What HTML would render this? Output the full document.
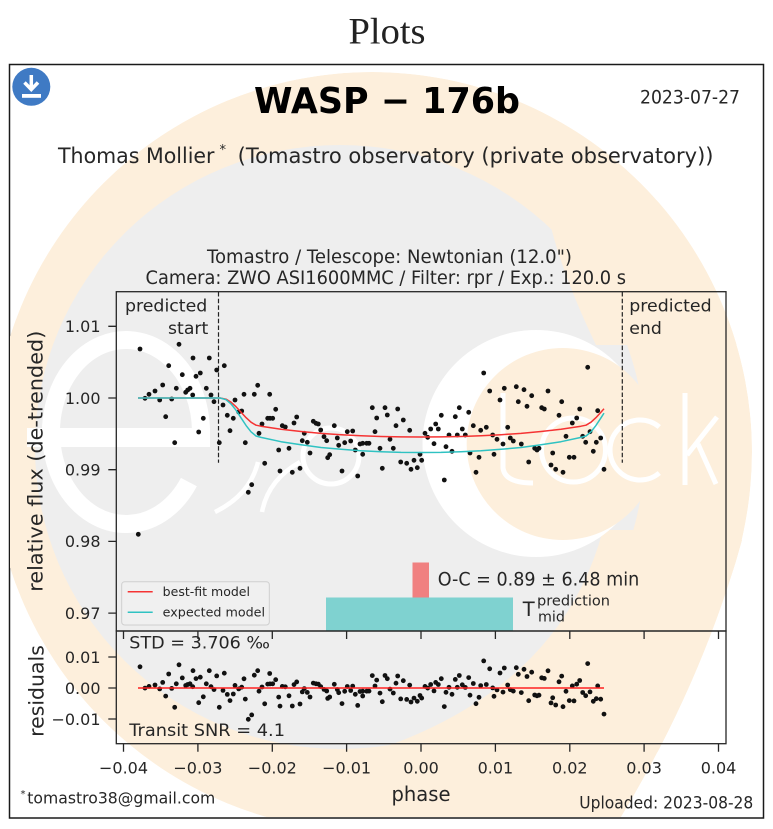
<!DOCTYPE html>
<html><head><meta charset="utf-8"><style>
html,body{margin:0;padding:0;background:#fff;}
svg{display:block;}
.m{font-family:"DejaVu Sans","Liberation Sans",sans-serif;fill:#262626;}
</style></head><body>
<svg width="773" height="829" viewBox="0 0 773 829" xmlns="http://www.w3.org/2000/svg">
<defs>
<clipPath id="box"><rect x="10" y="65" width="752.5" height="752"/></clipPath>
<clipPath id="ell"><circle cx="372" cy="452" r="380"/><path d="M742,540 Q700,690 613,830 L372,830 L372,540 Z"/></clipPath>
<clipPath id="ax1"><rect x="116.3" y="291.7" width="609.7" height="339.3"/></clipPath>
<clipPath id="ax2"><rect x="116.3" y="631" width="609.7" height="112.7"/></clipPath>
</defs>

<text x="387" y="43.5" text-anchor="middle" font-family="Liberation Serif, serif" font-size="37" fill="#222" textLength="77" lengthAdjust="spacingAndGlyphs">Plots</text>

<rect x="9.5" y="64.5" width="754" height="753.5" fill="#fff" stroke="#1a1a1a" stroke-width="1.5"/>

<!-- watermark -->
<g clip-path="url(#box)"><g clip-path="url(#ell)">
<circle cx="372" cy="452" r="380" fill="#fdefdc"/>
<path d="M742,540 Q700,690 613,830 L372,830 L372,540 Z" fill="#fdefdc"/>
<ellipse cx="340" cy="447" rx="305" ry="302" fill="#eeeeee"/>
<path d="M545,200 Q556,262 596,345 L770,345 L770,200 Z" fill="#fdefdc"/>
<path d="M603,530 Q560,690 370,752 L770,752 L770,530 Z" fill="#fdefdc"/>
<circle cx="536" cy="443.5" r="113.5" fill="#ffffff"/>
<circle cx="562.7" cy="444" r="96" fill="#fdefdc"/>
<g fill="none" stroke="#ffffff">
<path d="M188.9,482.1 A75,92 0 1 1 201,432" stroke-width="18"/>
<path d="M215,512 Q250,495 258,462" stroke-width="4.5"/>
<path d="M300,462 Q268,480 262,512" stroke-width="4.5"/>
<circle cx="331" cy="456" r="28" stroke-width="5"/>
<path d="M503,393 L503,468 Q505,483 533,483" stroke-width="5"/>
<circle cx="573.5" cy="450" r="32" stroke-width="5"/>
<path d="M659.3,427 A30,30 0 1 0 659.3,473" stroke-width="5"/>
<path d="M685,393 L685,485 M717,417 L687,455 M698,444 L716,484" stroke-width="5"/>
</g>
<rect x="27" y="428" width="183" height="19" fill="#ffffff"/>
</g></g>

<!-- download icon -->
<circle cx="31.3" cy="86.8" r="19" fill="#3f7ac4"/>
<line x1="31.3" y1="75" x2="31.3" y2="89" stroke="#fff" stroke-width="3.5"/>
<polyline points="24.5,82.5 31.3,89.5 38,82.5" fill="none" stroke="#fff" stroke-width="3.5"/>
<rect x="22" y="94" width="19" height="3.8" fill="#fff"/>

<!-- header -->
<text class="m" x="387" y="113" text-anchor="middle" font-size="36" font-weight="bold" textLength="266" lengthAdjust="spacingAndGlyphs" style="fill:#000">WASP − 176b</text>
<text class="m" x="640" y="103.3" font-size="19" textLength="100" lengthAdjust="spacingAndGlyphs">2023-07-27</text>
<text class="m" x="58" y="163" font-size="21" textLength="156.5" lengthAdjust="spacingAndGlyphs">Thomas Mollier</text>
<text class="m" x="219.5" y="154" font-size="13">*</text>
<text class="m" x="237.7" y="163" font-size="21" textLength="475.8" lengthAdjust="spacingAndGlyphs">(Tomastro observatory (private observatory))</text>
<text class="m" x="389.5" y="262.8" text-anchor="middle" font-size="19" textLength="365" lengthAdjust="spacingAndGlyphs">Tomastro / Telescope: Newtonian (12.0")</text>
<text class="m" x="385.8" y="284" text-anchor="middle" font-size="19" textLength="480.5" lengthAdjust="spacingAndGlyphs">Camera: ZWO ASI1600MMC / Filter: rpr / Exp.: 120.0 s</text>

<!-- O-C bars -->
<rect x="412.5" y="562.5" width="16.5" height="35" fill="#f08080"/>
<rect x="326" y="597.5" width="187" height="33.5" fill="#7fd2d0"/>

<!-- predicted start/end -->
<g stroke="#222" stroke-width="1.2" stroke-dasharray="4.5,2.2">
<line x1="218.5" y1="292" x2="218.5" y2="462.7"/>
<line x1="622.3" y1="292" x2="622.3" y2="462.7"/>
</g>
<text class="m" x="125" y="311.7" font-size="17.3" textLength="82.3" lengthAdjust="spacingAndGlyphs">predicted</text>
<text class="m" x="208.3" y="334" font-size="17.3" text-anchor="end">start</text>
<text class="m" x="629.3" y="311.7" font-size="17.3" textLength="82.3" lengthAdjust="spacingAndGlyphs">predicted</text>
<text class="m" x="629.3" y="334" font-size="17.3">end</text>

<!-- main dots -->
<g clip-path="url(#ax1)" fill="#111">
<circle cx="138.3" cy="534.3" r="2.4"/><circle cx="140" cy="349" r="2.4"/><circle cx="145" cy="398.3" r="2.4"/><circle cx="149" cy="394.3" r="2.4"/><circle cx="155" cy="391" r="2.4"/><circle cx="159.7" cy="400" r="2.4"/><circle cx="162.7" cy="385" r="2.4"/><circle cx="165.7" cy="416.7" r="2.4"/><circle cx="168.7" cy="365.7" r="2.4"/><circle cx="171.7" cy="399" r="2.4"/><circle cx="174.7" cy="442.7" r="2.4"/><circle cx="176.3" cy="388.3" r="2.4"/><circle cx="179" cy="344.3" r="2.4"/><circle cx="182.3" cy="374.7" r="2.4"/><circle cx="185.7" cy="392.3" r="2.4"/><circle cx="187.7" cy="390" r="2.4"/><circle cx="190" cy="388.3" r="2.4"/><circle cx="192.7" cy="395" r="2.4"/><circle cx="193" cy="358" r="2.4"/><circle cx="196" cy="376.3" r="2.4"/><circle cx="198.7" cy="432" r="2.4"/><circle cx="200.3" cy="373" r="2.4"/><circle cx="203.3" cy="418.3" r="2.4"/><circle cx="206.3" cy="388.3" r="2.4"/><circle cx="209.3" cy="358" r="2.4"/><circle cx="211" cy="395" r="2.4"/><circle cx="214" cy="401.7" r="2.4"/><circle cx="216.7" cy="370" r="2.4"/><circle cx="219.3" cy="442.7" r="2.4"/><circle cx="223" cy="405" r="2.4"/><circle cx="224.3" cy="365.7" r="2.4"/><circle cx="227.3" cy="415.3" r="2.4"/><circle cx="230" cy="430.7" r="2.4"/><circle cx="233.3" cy="418.3" r="2.4"/><circle cx="235" cy="400" r="2.4"/><circle cx="238.7" cy="412" r="2.4"/><circle cx="241.7" cy="411" r="2.4"/><circle cx="244" cy="394.3" r="2.4"/><circle cx="245.3" cy="442.7" r="2.4"/><circle cx="248.3" cy="492.3" r="2.4"/><circle cx="251.7" cy="484.7" r="2.4"/><circle cx="254.3" cy="394.3" r="2.4"/><circle cx="257.7" cy="385.3" r="2.4"/><circle cx="259" cy="433.3" r="2.4"/><circle cx="262" cy="424" r="2.4"/><circle cx="264.7" cy="463.3" r="2.4"/><circle cx="267.7" cy="418.3" r="2.4"/><circle cx="269.7" cy="394.3" r="2.4"/><circle cx="270" cy="418.3" r="2.4"/><circle cx="272.7" cy="418.3" r="2.4"/><circle cx="275.7" cy="409.3" r="2.4"/><circle cx="278.7" cy="450" r="2.4"/><circle cx="280" cy="471" r="2.4"/><circle cx="282.3" cy="425.7" r="2.4"/><circle cx="285.3" cy="427" r="2.4"/><circle cx="289" cy="448.3" r="2.4"/><circle cx="292.3" cy="472.3" r="2.4"/><circle cx="294" cy="423" r="2.4"/><circle cx="296.7" cy="417" r="2.4"/><circle cx="300" cy="468.3" r="2.4"/><circle cx="302.3" cy="440.7" r="2.4"/><circle cx="304.3" cy="433.3" r="2.4"/><circle cx="307.3" cy="442.3" r="2.4"/><circle cx="310" cy="453" r="2.4"/><circle cx="313.3" cy="421.3" r="2.4"/><circle cx="316" cy="423.3" r="2.4"/><circle cx="318.3" cy="424" r="2.4"/><circle cx="320.7" cy="430" r="2.4"/><circle cx="324" cy="436.7" r="2.4"/><circle cx="326.7" cy="440.7" r="2.4"/><circle cx="327.7" cy="457.7" r="2.4"/><circle cx="329.7" cy="454.7" r="2.4"/><circle cx="334.3" cy="425.7" r="2.4"/><circle cx="337.3" cy="438" r="2.4"/><circle cx="338.7" cy="445.3" r="2.4"/><circle cx="342" cy="471" r="2.4"/><circle cx="344.7" cy="442.7" r="2.4"/><circle cx="347.3" cy="431.7" r="2.4"/><circle cx="350.7" cy="441" r="2.4"/><circle cx="352.7" cy="431" r="2.4"/><circle cx="355.3" cy="450" r="2.4"/><circle cx="357.7" cy="476" r="2.4"/><circle cx="360" cy="444" r="2.4"/><circle cx="362.7" cy="443.3" r="2.4"/><circle cx="362.7" cy="454.3" r="2.4"/><circle cx="366.7" cy="443.3" r="2.4"/><circle cx="369" cy="443.3" r="2.4"/><circle cx="372.3" cy="407.7" r="2.4"/><circle cx="375" cy="431.7" r="2.4"/><circle cx="376.7" cy="418" r="2.4"/><circle cx="380" cy="448.3" r="2.4"/><circle cx="382.3" cy="468.3" r="2.4"/><circle cx="385" cy="407.7" r="2.4"/><circle cx="387.3" cy="415" r="2.4"/><circle cx="390" cy="439.3" r="2.4"/><circle cx="393.3" cy="448.3" r="2.4"/><circle cx="396" cy="425.7" r="2.4"/><circle cx="397.7" cy="409" r="2.4"/><circle cx="400.7" cy="462" r="2.4"/><circle cx="403.3" cy="420" r="2.4"/><circle cx="406.7" cy="463.3" r="2.4"/><circle cx="409.7" cy="430.3" r="2.4"/><circle cx="411" cy="469.3" r="2.4"/><circle cx="414" cy="460.3" r="2.4"/><circle cx="417.3" cy="467.7" r="2.4"/><circle cx="420" cy="454.3" r="2.4"/><circle cx="421.7" cy="460.3" r="2.4"/><circle cx="425" cy="433.3" r="2.4"/><circle cx="427.7" cy="437.3" r="2.4"/><circle cx="430.7" cy="429" r="2.4"/><circle cx="434" cy="443.7" r="2.4"/><circle cx="435.7" cy="424" r="2.4"/><circle cx="438.3" cy="429" r="2.4"/><circle cx="441.3" cy="415.3" r="2.4"/><circle cx="444.3" cy="480" r="2.4"/><circle cx="446" cy="446.7" r="2.4"/><circle cx="449" cy="435" r="2.4"/><circle cx="452" cy="451.3" r="2.4"/><circle cx="455.3" cy="416.7" r="2.4"/><circle cx="457.3" cy="435" r="2.4"/><circle cx="459.3" cy="407.7" r="2.4"/><circle cx="462.3" cy="429" r="2.4"/><circle cx="465.3" cy="435" r="2.4"/><circle cx="468.7" cy="412.3" r="2.4"/><circle cx="470" cy="453" r="2.4"/><circle cx="473.3" cy="425.7" r="2.4"/><circle cx="476" cy="472.3" r="2.4"/><circle cx="479" cy="457.3" r="2.4"/><circle cx="480.7" cy="430.3" r="2.4"/><circle cx="483.7" cy="373" r="2.4"/><circle cx="486.3" cy="427.3" r="2.4"/><circle cx="489.7" cy="391" r="2.4"/><circle cx="492.7" cy="435" r="2.4"/><circle cx="494" cy="454.3" r="2.4"/><circle cx="497" cy="439.3" r="2.4"/><circle cx="500" cy="400" r="2.4"/><circle cx="503" cy="444" r="2.4"/><circle cx="504.3" cy="388.3" r="2.4"/><circle cx="507.7" cy="427.3" r="2.4"/><circle cx="510.3" cy="438" r="2.4"/><circle cx="513.3" cy="441" r="2.4"/><circle cx="516.3" cy="386.7" r="2.4"/><circle cx="518.3" cy="401.7" r="2.4"/><circle cx="521.3" cy="444" r="2.4"/><circle cx="524" cy="389.7" r="2.4"/><circle cx="527" cy="406.3" r="2.4"/><circle cx="528.7" cy="462" r="2.4"/><circle cx="531.7" cy="395.7" r="2.4"/><circle cx="534.7" cy="448.3" r="2.4"/><circle cx="537" cy="450" r="2.4"/><circle cx="539" cy="448.3" r="2.4"/><circle cx="541.7" cy="407.7" r="2.4"/><circle cx="544.3" cy="409" r="2.4"/><circle cx="548" cy="391" r="2.4"/><circle cx="551" cy="465" r="2.4"/><circle cx="552.7" cy="453" r="2.4"/><circle cx="555.7" cy="469.3" r="2.4"/><circle cx="559" cy="415.3" r="2.4"/><circle cx="561.7" cy="401.7" r="2.4"/><circle cx="563" cy="472.3" r="2.4"/><circle cx="566" cy="436.3" r="2.4"/><circle cx="569.3" cy="457.3" r="2.4"/><circle cx="572.3" cy="423" r="2.4"/><circle cx="574" cy="457.3" r="2.4"/><circle cx="576.7" cy="418" r="2.4"/><circle cx="579.7" cy="409" r="2.4"/><circle cx="582.7" cy="436.3" r="2.4"/><circle cx="585.7" cy="442.3" r="2.4"/><circle cx="587.7" cy="367.3" r="2.4"/><circle cx="590" cy="431.7" r="2.4"/><circle cx="593.3" cy="451.3" r="2.4"/><circle cx="596.3" cy="442.3" r="2.4"/><circle cx="597.7" cy="410.7" r="2.4"/><circle cx="600.7" cy="438" r="2.4"/><circle cx="604" cy="469.3" r="2.4"/>
</g>

<!-- model curves -->
<g fill="none" stroke-width="1.5" stroke-linejoin="round">
<path stroke="#f53333" d="M138,398 L220.2,398 L226,399.2 L231,402.2 L236,406.7 L241,412.1 L246,417.6 L251,422.2 L256,425.2 L261,426.2 L281,429.3 L301,431.5 L321,433.4 L341,434.7 L361,435.8 L381,436.5 L401,436.9 L421,437 L441,436.9 L461,436.5 L481,435.8 L501,434.7 L521,433.4 L541,431.5 L561,429.3 L581,426.2 L586,425.2 L591,422.2 L596,417.6 L601,412.1 L604,408.8"/>
<path stroke="#2fc2c2" d="M138,398 L220.2,398 L226,399.7 L231,403.9 L236,410.2 L241,417.8 L246,425.4 L251,431.8 L256,436 L261,437.4 L281,441.7 L301,444.8 L321,447.5 L341,449.3 L361,450.8 L381,451.8 L401,452.4 L421,452.5 L441,452.4 L461,451.8 L481,450.8 L501,449.3 L521,447.5 L541,444.8 L561,441.7 L581,437.4 L586,436 L591,431.8 L596,425.4 L601,417.8 L604,413.1"/>
</g>

<!-- legend -->
<rect x="121.7" y="581.7" width="147.6" height="43.3" rx="3" fill="#ffffff" fill-opacity="0.15" stroke="#cfcfcf" stroke-width="1"/>
<line x1="127.7" y1="591.7" x2="152.7" y2="591.7" stroke="#f53333" stroke-width="1.5"/>
<line x1="127.7" y1="612.3" x2="152.7" y2="612.3" stroke="#2fc2c2" stroke-width="1.5"/>
<text class="m" x="162.7" y="596" font-size="12.5" textLength="87.3" lengthAdjust="spacingAndGlyphs">best-fit model</text>
<text class="m" x="162.7" y="616.7" font-size="12.5" textLength="102.3" lengthAdjust="spacingAndGlyphs">expected model</text>

<!-- O-C text -->
<text class="m" x="437.7" y="585.7" font-size="19" textLength="201.6" lengthAdjust="spacingAndGlyphs">O-C = 0.89 ± 6.48 min</text>
<text class="m" x="522.7" y="616" font-size="19.5">T</text>
<text class="m" x="537" y="605.7" font-size="14.5" textLength="73" lengthAdjust="spacingAndGlyphs">prediction</text>
<text class="m" x="538" y="621.7" font-size="14.3" textLength="27" lengthAdjust="spacingAndGlyphs">mid</text>

<!-- residual dots -->
<g clip-path="url(#ax2)" fill="#111">
<circle cx="140" cy="666.8" r="2.4"/><circle cx="145" cy="688.1" r="2.4"/><circle cx="149" cy="686.4" r="2.4"/><circle cx="155" cy="685" r="2.4"/><circle cx="159.7" cy="688.9" r="2.4"/><circle cx="162.7" cy="682.4" r="2.4"/><circle cx="165.7" cy="696.1" r="2.4"/><circle cx="168.7" cy="674" r="2.4"/><circle cx="171.7" cy="688.4" r="2.4"/><circle cx="174.7" cy="707.3" r="2.4"/><circle cx="176.3" cy="683.8" r="2.4"/><circle cx="179" cy="664.8" r="2.4"/><circle cx="182.3" cy="677.9" r="2.4"/><circle cx="185.7" cy="685.5" r="2.4"/><circle cx="187.7" cy="684.5" r="2.4"/><circle cx="190" cy="683.8" r="2.4"/><circle cx="192.7" cy="686.7" r="2.4"/><circle cx="193" cy="670.7" r="2.4"/><circle cx="196" cy="678.6" r="2.4"/><circle cx="198.7" cy="702.7" r="2.4"/><circle cx="200.3" cy="677.2" r="2.4"/><circle cx="203.3" cy="696.8" r="2.4"/><circle cx="206.3" cy="683.8" r="2.4"/><circle cx="209.3" cy="670.7" r="2.4"/><circle cx="211" cy="686.7" r="2.4"/><circle cx="214" cy="689.6" r="2.4"/><circle cx="216.7" cy="675.9" r="2.4"/><circle cx="219.3" cy="707.3" r="2.4"/><circle cx="223" cy="690.4" r="2.4"/><circle cx="224.3" cy="673.2" r="2.4"/><circle cx="227.3" cy="694.4" r="2.4"/><circle cx="230" cy="700.6" r="2.4"/><circle cx="233.3" cy="694" r="2.4"/><circle cx="235" cy="685.4" r="2.4"/><circle cx="238.7" cy="688.9" r="2.4"/><circle cx="241.7" cy="687.2" r="2.4"/><circle cx="244" cy="678.8" r="2.4"/><circle cx="245.3" cy="699.1" r="2.4"/><circle cx="248.3" cy="719.3" r="2.4"/><circle cx="251.7" cy="714.9" r="2.4"/><circle cx="254.3" cy="675.2" r="2.4"/><circle cx="257.7" cy="670.7" r="2.4"/><circle cx="259" cy="691.2" r="2.4"/><circle cx="262" cy="687" r="2.4"/><circle cx="264.7" cy="703.8" r="2.4"/><circle cx="267.7" cy="684.1" r="2.4"/><circle cx="269.7" cy="673.5" r="2.4"/><circle cx="270" cy="683.9" r="2.4"/><circle cx="272.7" cy="683.8" r="2.4"/><circle cx="275.7" cy="679.7" r="2.4"/><circle cx="278.7" cy="697.1" r="2.4"/><circle cx="280" cy="706.1" r="2.4"/><circle cx="282.3" cy="686.4" r="2.4"/><circle cx="285.3" cy="686.8" r="2.4"/><circle cx="289" cy="695.8" r="2.4"/><circle cx="292.3" cy="706" r="2.4"/><circle cx="294" cy="684.6" r="2.4"/><circle cx="296.7" cy="681.9" r="2.4"/><circle cx="300" cy="704" r="2.4"/><circle cx="302.3" cy="691.9" r="2.4"/><circle cx="304.3" cy="688.6" r="2.4"/><circle cx="307.3" cy="692.4" r="2.4"/><circle cx="310" cy="697" r="2.4"/><circle cx="313.3" cy="683.1" r="2.4"/><circle cx="316" cy="683.8" r="2.4"/><circle cx="318.3" cy="684.1" r="2.4"/><circle cx="320.7" cy="686.6" r="2.4"/><circle cx="324" cy="689.4" r="2.4"/><circle cx="326.7" cy="691" r="2.4"/><circle cx="327.7" cy="698.4" r="2.4"/><circle cx="329.7" cy="697" r="2.4"/><circle cx="334.3" cy="684.3" r="2.4"/><circle cx="337.3" cy="689.5" r="2.4"/><circle cx="338.7" cy="692.7" r="2.4"/><circle cx="342" cy="703.6" r="2.4"/><circle cx="344.7" cy="691.3" r="2.4"/><circle cx="347.3" cy="686.5" r="2.4"/><circle cx="350.7" cy="690.5" r="2.4"/><circle cx="352.7" cy="686.1" r="2.4"/><circle cx="355.3" cy="694.3" r="2.4"/><circle cx="357.7" cy="705.4" r="2.4"/><circle cx="360" cy="691.5" r="2.4"/><circle cx="362.7" cy="691.2" r="2.4"/><circle cx="362.7" cy="696" r="2.4"/><circle cx="366.7" cy="691.2" r="2.4"/><circle cx="369" cy="691.1" r="2.4"/><circle cx="372.3" cy="675.6" r="2.4"/><circle cx="375" cy="686" r="2.4"/><circle cx="376.7" cy="680.1" r="2.4"/><circle cx="380" cy="693.1" r="2.4"/><circle cx="382.3" cy="701.7" r="2.4"/><circle cx="385" cy="675.5" r="2.4"/><circle cx="387.3" cy="678.7" r="2.4"/><circle cx="390" cy="689.1" r="2.4"/><circle cx="393.3" cy="693" r="2.4"/><circle cx="396" cy="683.2" r="2.4"/><circle cx="397.7" cy="676" r="2.4"/><circle cx="400.7" cy="698.9" r="2.4"/><circle cx="403.3" cy="680.7" r="2.4"/><circle cx="406.7" cy="699.4" r="2.4"/><circle cx="409.7" cy="685.1" r="2.4"/><circle cx="411" cy="702" r="2.4"/><circle cx="414" cy="698.1" r="2.4"/><circle cx="417.3" cy="701.3" r="2.4"/><circle cx="420" cy="695.5" r="2.4"/><circle cx="421.7" cy="698.1" r="2.4"/><circle cx="425" cy="686.4" r="2.4"/><circle cx="427.7" cy="688.1" r="2.4"/><circle cx="430.7" cy="684.5" r="2.4"/><circle cx="434" cy="690.9" r="2.4"/><circle cx="435.7" cy="682.4" r="2.4"/><circle cx="438.3" cy="684.5" r="2.4"/><circle cx="441.3" cy="678.7" r="2.4"/><circle cx="444.3" cy="706.6" r="2.4"/><circle cx="446" cy="692.3" r="2.4"/><circle cx="449" cy="687.3" r="2.4"/><circle cx="452" cy="694.3" r="2.4"/><circle cx="455.3" cy="679.4" r="2.4"/><circle cx="457.3" cy="687.3" r="2.4"/><circle cx="459.3" cy="675.5" r="2.4"/><circle cx="462.3" cy="684.8" r="2.4"/><circle cx="465.3" cy="687.4" r="2.4"/><circle cx="468.7" cy="677.6" r="2.4"/><circle cx="470" cy="695.2" r="2.4"/><circle cx="473.3" cy="683.5" r="2.4"/><circle cx="476" cy="703.7" r="2.4"/><circle cx="479" cy="697.3" r="2.4"/><circle cx="480.7" cy="685.6" r="2.4"/><circle cx="483.7" cy="660.9" r="2.4"/><circle cx="486.3" cy="684.5" r="2.4"/><circle cx="489.7" cy="668.8" r="2.4"/><circle cx="492.7" cy="687.9" r="2.4"/><circle cx="494" cy="696.3" r="2.4"/><circle cx="497" cy="689.9" r="2.4"/><circle cx="500" cy="673" r="2.4"/><circle cx="503" cy="692.1" r="2.4"/><circle cx="504.3" cy="668" r="2.4"/><circle cx="507.7" cy="685" r="2.4"/><circle cx="510.3" cy="689.7" r="2.4"/><circle cx="513.3" cy="691.1" r="2.4"/><circle cx="516.3" cy="667.7" r="2.4"/><circle cx="518.3" cy="674.3" r="2.4"/><circle cx="521.3" cy="692.6" r="2.4"/><circle cx="524" cy="669.3" r="2.4"/><circle cx="527" cy="676.5" r="2.4"/><circle cx="528.7" cy="700.7" r="2.4"/><circle cx="531.7" cy="672.2" r="2.4"/><circle cx="534.7" cy="695" r="2.4"/><circle cx="537" cy="695.8" r="2.4"/><circle cx="539" cy="695.2" r="2.4"/><circle cx="541.7" cy="677.8" r="2.4"/><circle cx="544.3" cy="678.4" r="2.4"/><circle cx="548" cy="670.8" r="2.4"/><circle cx="551" cy="702.9" r="2.4"/><circle cx="552.7" cy="697.8" r="2.4"/><circle cx="555.7" cy="705" r="2.4"/><circle cx="559" cy="681.8" r="2.4"/><circle cx="561.7" cy="676.1" r="2.4"/><circle cx="563" cy="706.7" r="2.4"/><circle cx="566" cy="691.3" r="2.4"/><circle cx="569.3" cy="700.6" r="2.4"/><circle cx="572.3" cy="685.9" r="2.4"/><circle cx="574" cy="700.9" r="2.4"/><circle cx="576.7" cy="684.2" r="2.4"/><circle cx="579.7" cy="680.5" r="2.4"/><circle cx="582.7" cy="692.5" r="2.4"/><circle cx="585.7" cy="695.7" r="2.4"/><circle cx="587.7" cy="663.6" r="2.4"/><circle cx="590" cy="691.9" r="2.4"/><circle cx="593.3" cy="701.3" r="2.4"/><circle cx="596.3" cy="698.7" r="2.4"/><circle cx="597.7" cy="685.9" r="2.4"/><circle cx="600.7" cy="699.2" r="2.4"/><circle cx="604" cy="714.1" r="2.4"/>
</g>
<line x1="138" y1="688" x2="604" y2="688" stroke="#ff2020" stroke-width="1.5"/>

<text class="m" x="129.3" y="648.3" font-size="17" textLength="140.7" lengthAdjust="spacingAndGlyphs">STD = 3.706 ‰</text>
<text class="m" x="129.3" y="736" font-size="17.3" textLength="155.7" lengthAdjust="spacingAndGlyphs">Transit SNR = 4.1</text>

<!-- axes frames -->
<g fill="none" stroke="#262626" stroke-width="1.3">
<rect x="116.3" y="291.7" width="609.7" height="339.3"/>
<rect x="116.3" y="631" width="609.7" height="112.7"/>
<path d="M108.3,326.3H116.3 M108.3,398H116.3 M108.3,469.7H116.3 M108.3,541.4H116.3 M108.3,613.1H116.3"/>
<path d="M108.3,657H116.3 M108.3,688H116.3 M108.3,719H116.3"/>
<path d="M123.5,743.7V751.7 M197.9,743.7V751.7 M272.3,743.7V751.7 M346.6,743.7V751.7 M421,743.7V751.7 M495.4,743.7V751.7 M569.8,743.7V751.7 M644.1,743.7V751.7 M718.5,743.7V751.7"/>
<path d="M123.5,631V639 M197.9,631V639 M272.3,631V639 M346.6,631V639 M421,631V639 M495.4,631V639 M569.8,631V639 M644.1,631V639 M718.5,631V639"/>
</g>

<!-- tick labels -->
<g class="m" font-size="16" text-anchor="end">
<text x="100.5" y="332.1">1.01</text>
<text x="100.5" y="403.8">1.00</text>
<text x="100.5" y="475.5">0.99</text>
<text x="100.5" y="547.2">0.98</text>
<text x="100.5" y="618.9">0.97</text>
<text x="100.5" y="662.8">0.01</text>
<text x="100.5" y="693.8">0.00</text>
<text x="100.5" y="724.8">−0.01</text>
</g>
<g class="m" font-size="16" text-anchor="middle">
<text x="123.5" y="773.3">−0.04</text>
<text x="197.9" y="773.3">−0.03</text>
<text x="272.3" y="773.3">−0.02</text>
<text x="346.6" y="773.3">−0.01</text>
<text x="421" y="773.3">0.00</text>
<text x="495.4" y="773.3">0.01</text>
<text x="569.8" y="773.3">0.02</text>
<text x="644.1" y="773.3">0.03</text>
<text x="718.5" y="773.3">0.04</text>
</g>

<!-- axis labels -->
<text class="m" x="421" y="801" text-anchor="middle" font-size="20" textLength="59" lengthAdjust="spacingAndGlyphs">phase</text>
<text class="m" transform="translate(42.5,461.2) rotate(-90)" text-anchor="middle" font-size="20.5" textLength="261" lengthAdjust="spacingAndGlyphs">relative flux (de-trended)</text>
<text class="m" transform="translate(43.3,691) rotate(-90)" text-anchor="middle" font-size="20.3" textLength="91.7" lengthAdjust="spacingAndGlyphs">residuals</text>

<!-- footer -->
<text class="m" x="20.5" y="797" font-size="10">*</text>
<text class="m" x="27.3" y="803.3" font-size="15.6" textLength="188" lengthAdjust="spacingAndGlyphs">tomastro38@gmail.com</text>
<text class="m" x="579.3" y="808.7" font-size="16.5" textLength="174" lengthAdjust="spacingAndGlyphs">Uploaded: 2023-08-28</text>
</svg>
</body></html>
